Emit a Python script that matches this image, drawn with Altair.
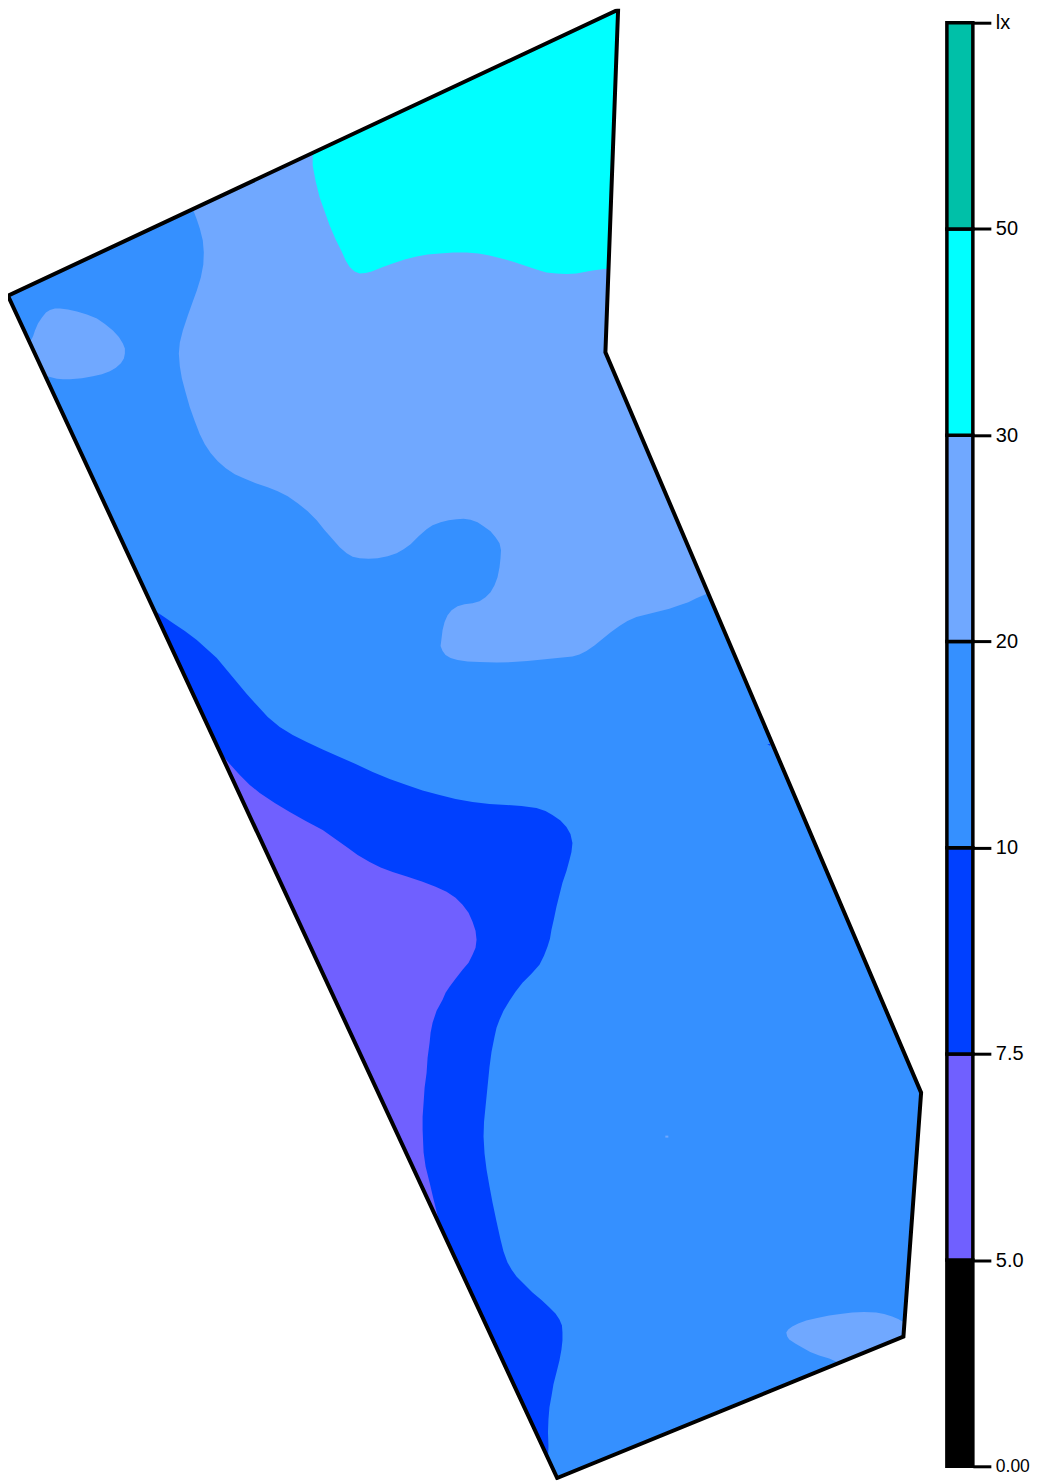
import altair as alt

# Legend: class labels (bottom to top) and class colours
level_labels = ["0.00", "5.0", "7.5", "10", "20", "30", "50", "lx"]
band_names = ["0-5", "5-7.5", "7.5-10", "10-20", "20-30", "30-50", "50+"]
band_colors = ["#000000", "#7060FF", "#0040FF", "#3590FF", "#70A8FF", "#00FFFF", "#00C0A8"]

# Map geometry, in map units
outline = [[8, 295.3], [618.7, 9], [606, 352], [922, 1093], [904.3, 1337.3], [557.7, 1478.7], [8, 295.3]]

light_main = [[193, 208.6], [197, 219], [200, 228], [203, 240], [204, 252], [203.5, 264], [201, 277],
              [197, 290], [193, 301], [188, 315], [183, 330], [180, 342], [179, 353], [180, 366],
              [182, 378], [186, 393], [190, 407], [195, 421], [200, 434], [205, 444], [211, 453],
              [218, 461], [226, 468], [235, 474], [244, 478], [256, 483], [268, 487], [278, 491],
              [288, 496], [298, 503], [308, 511], [317, 520], [325, 530], [333, 539], [340, 547],
              [347, 553], [353, 556.5], [360, 558], [369, 558.5], [378, 558], [388, 556], [397, 553],
              [404, 549], [411, 544], [419, 536], [427, 529], [433, 525], [441, 522], [449, 520],
              [457, 519], [464, 518.5], [471, 519.5], [478, 522], [484, 526], [491, 531], [496, 537],
              [500, 543], [501.5, 550], [501, 558], [500, 567], [498, 577], [495, 585], [491, 592],
              [486, 597], [480, 601], [473, 603], [465, 604], [458, 606], [452, 610], [448, 615],
              [445, 622], [443, 630], [442, 638], [441, 646], [443, 651], [446, 655], [451, 658],
              [458, 660], [468, 661.5], [480, 662], [497, 662.5], [513, 662], [528, 661], [543, 659.5],
              [558, 658], [573, 656.5], [580, 654.5], [587, 651], [595, 645.5], [603, 639], [611, 632.5],
              [620, 626], [628, 621], [637, 617], [648, 614], [660, 611], [670, 608.5], [680, 605],
              [689, 602], [697, 598], [708.8, 593], [606, 352], [618.7, 9], [193, 208.6]]

light_blob_west = [[29.7, 342], [33, 336], [35, 330], [38, 323], [42, 317], [46, 312], [50, 309.5],
                   [55, 308], [60, 308], [68, 309], [77, 311], [87, 314], [97, 318], [105, 323.5],
                   [113, 330], [119, 336.5], [123, 343], [125, 348], [125, 353], [124, 358], [121, 363],
                   [116, 367.5], [110, 371], [102, 374], [93, 376], [82, 378], [70, 379], [63, 379],
                   [57, 378.5], [47, 376], [45.5, 376], [29.7, 342]]

light_blob_south = [[905.3, 1323], [899, 1319.5], [893, 1317], [885, 1314.5], [877, 1313], [865, 1312.5],
                    [853, 1313], [841, 1314.5], [830, 1316], [818, 1318.5], [807, 1321], [799, 1324],
                    [793, 1327], [789, 1330], [787, 1333], [788, 1337], [790, 1340], [796, 1344],
                    [803, 1348], [811, 1352.5], [820, 1356], [830, 1359], [840, 1363.5], [904.3, 1337.3],
                    [905.3, 1323]]

cyan_north = [[618.7, 9], [313, 152.3], [313, 165], [316, 181], [320, 197], [325, 211], [330, 225],
              [336, 239], [342, 251], [346, 260], [350, 266.5], [355, 271], [360, 273], [366, 272.5],
              [372, 271], [382, 267], [393, 263], [405, 259], [417, 256], [428, 254], [440, 253],
              [454, 252], [467, 252], [479, 253], [490, 255], [502, 258], [513, 261], [525, 265],
              [537, 269], [547, 272], [557, 273], [567, 273.5], [577, 273], [585, 271.5], [593, 270],
              [609.1, 268], [618.7, 9]]

dark_band = [[154.2, 610], [164, 616.5], [173, 623], [185, 631], [197, 640], [207, 649], [217, 658],
             [227, 670], [237, 682], [247, 694], [257, 705], [268, 717], [280, 727], [293, 735],
             [307, 742], [323, 749.5], [340, 757], [356, 764], [373, 772], [390, 779], [407, 785],
             [423, 790.5], [440, 795], [456, 799], [473, 802], [490, 804], [507, 805], [522, 806],
             [537, 808], [546, 811], [553, 815], [561, 820.5], [567, 827], [571, 834], [573, 843],
             [572, 852], [570, 860], [567, 871], [563, 883], [560, 895], [557, 907], [554.5, 919],
             [552, 930], [550.5, 939], [548, 947], [544.5, 956], [540, 965], [532, 974], [523, 983],
             [516, 992], [510, 1001], [504, 1011], [500, 1020], [497, 1028], [495, 1037], [492, 1052],
             [490, 1067], [488, 1087], [486, 1107], [484.5, 1122], [484, 1137], [485, 1154],
             [487, 1170], [490, 1187], [493, 1203], [497, 1222], [501, 1240], [504, 1252],
             [508, 1263], [512, 1270], [517, 1277], [525, 1285], [533, 1293], [542, 1300.5],
             [550, 1308], [556, 1314], [560, 1320], [562.5, 1326], [563, 1333], [563, 1341],
             [562, 1350], [560, 1361], [557, 1373], [554, 1385], [552, 1397], [550, 1408],
             [549, 1420], [548.5, 1433], [549, 1447], [548.6, 1459], [154.2, 610]]

purple_pocket = [[220.1, 752], [230, 764], [240, 775], [250, 785], [260, 793], [275, 803], [290, 812],
                 [306, 821], [323, 830], [335, 838.5], [347, 847], [358, 855], [370, 862], [381, 867.5],
                 [393, 872], [408, 877], [423, 882], [436, 887], [447, 892], [456, 898], [463, 905],
                 [469, 913], [473, 922], [476, 931], [477, 940], [476, 948], [473, 955], [469, 963],
                 [463, 970], [456, 979], [450, 987], [446, 993], [443, 1000], [437, 1011], [433, 1023],
                 [431, 1033], [430, 1043], [428, 1058], [427, 1073], [425, 1088], [424, 1103],
                 [423, 1117], [423, 1130], [423.5, 1142], [424, 1153], [426, 1167], [430, 1183],
                 [434, 1200], [439, 1220], [437.5, 1220], [220.1, 752]]

speck_dark = [[768, 744], [771, 744], [771, 746], [768, 744]]
speck_light = [[666, 1136], [669, 1136], [669, 1138], [666, 1138], [666, 1136]]


def feature(ring, band):
    return {"type": "Feature", "properties": {"band": band},
            "geometry": {"type": "Polygon", "coordinates": [ring]}}


features = [
    feature(outline, "10-20"),
    feature(light_main, "20-30"),
    feature(light_blob_west, "20-30"),
    feature(light_blob_south, "20-30"),
    feature(cyan_north, "30-50"),
    feature(dark_band, "7.5-10"),
    feature(purple_pocket, "5-7.5"),
    feature(speck_dark, "7.5-10"),
    feature(speck_light, "20-30"),
]

color_scale = alt.Scale(domain=band_names, range=band_colors)

fills = alt.Chart(alt.Data(values=features)).mark_geoshape(strokeWidth=0, clip=True).encode(
    color=alt.Color("properties.band:N", scale=color_scale, legend=None)
)
border = alt.Chart(alt.Data(values=[feature(outline, "border")])).mark_geoshape(
    filled=False, stroke="#000000", strokeWidth=4, strokeJoin="miter", strokeMiterLimit=2, clip=True
).encode(detail="properties.band:N")

map_panel = alt.layer(fills, border).project(
    type="identity", scale=1, translate=[-8, -8]
).properties(width=924, height=1473)

legend_rows = [{"band": b, "lo": i, "hi": i + 1} for i, b in enumerate(band_names)]
label_array = "[" + ",".join(f"'{s}'" for s in level_labels) + "]"

bar = alt.Chart(alt.Data(values=legend_rows)).mark_rect(stroke="#000000", strokeWidth=3.5).encode(
    x=alt.value(0),
    x2=alt.value(26),
    y=alt.Y("lo:Q",
            scale=alt.Scale(domain=[-0.0676, 7.068], nice=False, zero=False),
            axis=alt.Axis(orient="right", title=None, grid=False, domain=False,
                          values=list(range(len(level_labels))),
                          labelExpr=label_array + "[datum.value]",
                          tickSize=18, tickWidth=3, tickColor="#000000",
                          labelFont="Liberation Sans", labelColor="#000000",
                          labelFontSize={"condition": {"test": "datum.value === 0", "value": 17.5}, "value": 20},
                          labelPadding=4.5, labelBaseline="middle")),
    y2="hi:Q",
    color=alt.Color("band:N", scale=color_scale, legend=None),
).properties(width=26, height=1473)

chart = alt.hconcat(map_panel, bar, spacing=13.8).properties(
    padding=0, background="#ffffff"
).configure_view(stroke=None)

chart.save("out.html", embed_options={"renderer": "svg", "actions": False})
